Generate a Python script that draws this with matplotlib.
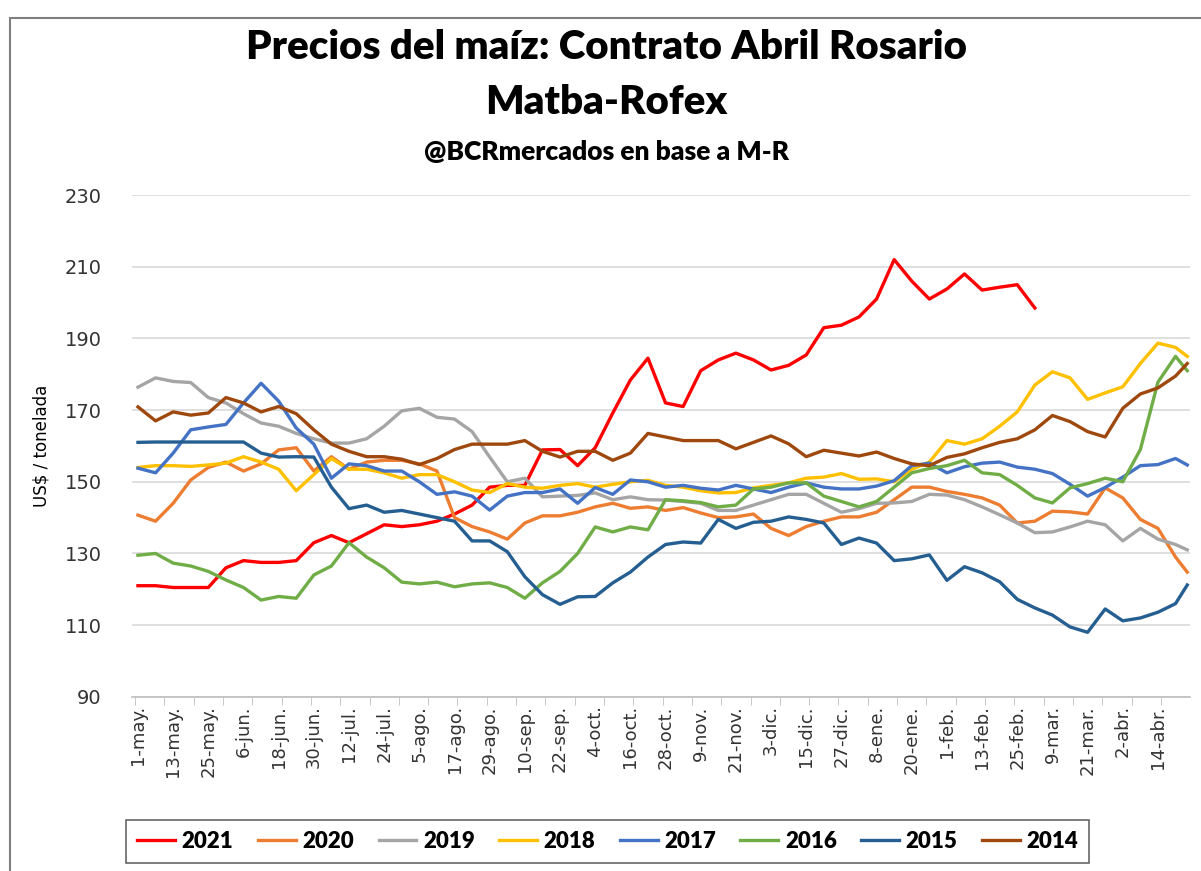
import numpy as np
import matplotlib
matplotlib.use("Agg")
import matplotlib.pyplot as plt
from matplotlib.patches import Rectangle

# dias desde el 1-may (muestras cada 6 dias + ultimo dato)
days = list(range(0, 355, 6)) + [358]

tick_days = list(range(0, 349, 12))
tick_labels = ["1-may.", "13-may.", "25-may.", "6-jun.", "18-jun.", "30-jun.",
               "12-jul.", "24-jul.", "5-ago.", "17-ago.", "29-ago.", "10-sep.",
               "22-sep.", "4-oct.", "16-oct.", "28-oct.", "9-nov.", "21-nov.",
               "3-dic.", "15-dic.", "27-dic.", "8-ene.", "20-ene.", "1-feb.",
               "13-feb.", "25-feb.", "9-mar.", "21-mar.", "2-abr.", "14-abr."]

p2021 = [121, 121, 120.5, 120.5, 120.5, 126, 128, 127.5, 127.5, 128,
         133, 135, 133, 135.5, 138, 137.5, 138, 139, 141, 143.5,
         148.5, 149, 149, 158.9, 159, 154.5, 159.5, 169.2, 178.4, 184.5,
         172, 171, 181, 184, 185.9, 184, 181.2, 182.5, 185.4, 193,
         193.7, 196, 201, 212, 206, 201, 203.8, 208, 203.5, 204.3,
         205, 198.5]
p2020 = [140.7, 139, 144, 150.5, 154, 155.5, 153, 155, 158.9, 159.5,
         153, 157, 153.5, 155.5, 156, 156, 155, 153, 140, 137.5,
         136, 134, 138.5, 140.5, 140.5, 141.5, 143, 144, 142.6, 143,
         142, 142.8, 141.3, 140, 140.2, 141, 137, 135, 137.5, 139,
         140.2, 140.2, 141.5, 145, 148.5, 148.5, 147.3, 146.5, 145.5, 143.5,
         138.5, 139, 141.8, 141.6, 141, 148.3, 145.5, 139.5, 137, 129,
         124.8]
p2019 = [176.4, 179, 178, 177.7, 173.5, 172, 169, 166.4, 165.5, 163.5,
         162, 160.8, 160.8, 162, 165.5, 169.8, 170.5, 168, 167.5, 164,
         156.9, 150, 151, 145.8, 146, 146.2, 146.9, 145, 145.8, 145,
         144.9, 144.5, 144, 142, 142, 143.5, 145, 146.5, 146.5, 144,
         141.5, 142.5, 144, 144.1, 144.5, 146.5, 146.3, 145, 143, 140.8,
         138.5, 135.8, 136, 137.4, 139, 138, 133.5, 137, 134, 132.5,
         131]
p2018 = [154, 154.5, 154.5, 154.3, 154.7, 155.2, 157, 155.5, 153.5, 147.5,
         152, 156.5, 153.5, 153.5, 152.5, 151, 152, 152, 150, 147.7,
         147, 149.5, 148.5, 148.2, 149, 149.5, 148.5, 149.3, 150, 150.4,
         149, 148.5, 147.5, 146.9, 147, 148.3, 149, 149.7, 151, 151.3,
         152.3, 150.7, 150.8, 150, 153.5, 155.5, 161.5, 160.5, 162, 165.5,
         169.5, 177, 180.7, 179, 173, 174.8, 176.5, 183, 188.7, 187.5,
         185]
p2017 = [153.8, 152.5, 158, 164.5, 165.3, 166, 172, 177.5, 172.5, 165,
         160.5, 151, 155, 154.5, 153, 153, 150, 146.5, 147.2, 146,
         142.1, 146, 147, 147, 148, 144, 148.4, 146.5, 150.5, 150,
         148.5, 149, 148.2, 147.7, 149, 148, 147, 148.5, 149.7, 148.5,
         148, 148, 148.8, 150.3, 154.5, 155.2, 152.5, 154.2, 155.2, 155.5,
         154.1, 153.5, 152.3, 149.3, 146, 148.4, 151.3, 154.5, 154.8, 156.5,
         154.7]
p2016 = [129.5, 130, 127.3, 126.5, 125, 122.6, 120.5, 117, 118, 117.5,
         124, 126.5, 133, 129, 126, 122, 121.5, 122, 120.7, 121.5,
         121.8, 120.5, 117.5, 121.8, 125, 130, 137.4, 136, 137.4, 136.6,
         145, 144.7, 144.2, 143, 143.5, 148, 148.5, 149.7, 149.7, 146,
         144.5, 143, 144.5, 148.5, 152.5, 153.7, 154.5, 156, 152.5, 152,
         149, 145.5, 144.1, 148.3, 149.5, 151, 150, 159, 177.8, 185,
         181]
p2015 = [161, 161.1, 161.1, 161.1, 161.1, 161.1, 161.1, 158, 156.9, 157,
         156.9, 148.5, 142.5, 143.5, 141.5, 142, 141, 140, 139, 133.5,
         133.5, 130.5, 123.5, 118.5, 115.8, 117.9, 118, 121.8, 124.8, 129,
         132.5, 133.2, 132.9, 139.5, 137, 138.7, 139, 140.2, 139.5, 138.5,
         132.5, 134.3, 132.9, 128, 128.5, 129.6, 122.5, 126.3, 124.6, 122.1,
         117.2, 114.8, 112.8, 109.5, 108, 114.5, 111.2, 112, 113.6, 116,
         121.2]
p2014 = [170.9, 167, 169.5, 168.6, 169.2, 173.5, 172, 169.5, 171, 169,
         164.5, 160.5, 158.5, 157, 157, 156.3, 154.8, 156.5, 159, 160.5,
         160.5, 160.5, 161.5, 158.5, 156.9, 158.5, 158.5, 156, 158, 163.5,
         162.5, 161.5, 161.5, 161.5, 159.2, 161, 162.8, 160.6, 157, 158.8,
         158, 157.2, 158.3, 156.5, 155, 154.5, 156.8, 157.8, 159.5, 161,
         162, 164.5, 168.5, 166.8, 164, 162.5, 170.5, 174.5, 176.2, 179.5,
         183]

series = [
    ("2021", p2021, "#FF0000"),
    ("2020", p2020, "#ED7D31"),
    ("2019", p2019, "#A5A5A5"),
    ("2018", p2018, "#FFC000"),
    ("2017", p2017, "#4472C4"),
    ("2016", p2016, "#70AD47"),
    ("2015", p2015, "#255E91"),
    ("2014", p2014, "#9E480E"),
]

title_font = ["Lato", "DejaVu Sans"]

fig = plt.figure(figsize=(12.01, 8.71), dpi=100)
ax = fig.add_axes([0.110, 0.200, 0.881, 0.576])

for name, vals, color in series:
    ax.plot(days[:len(vals)], vals, color=color, lw=2.4, label=name,
            solid_joinstyle="round")

ax.set_ylim(90, 230)
ax.set_xlim(-2, 359)
ax.set_yticks(range(90, 231, 20))
ax.yaxis.grid(True, color="#D9D9D9", lw=1.2)
ax.set_axisbelow(True)
for s in ["top", "right", "left"]:
    ax.spines[s].set_visible(False)
ax.spines["bottom"].set_color("#BFBFBF")
ax.spines["bottom"].set_linewidth(1.2)
ax.tick_params(axis="y", length=0, labelsize=14, labelcolor="#333333", pad=22)

ax.set_xticks(tick_days)
ax.set_xticklabels(tick_labels, rotation=90, fontsize=13, color="#333333",
                   fontfamily="DejaVu Sans")
ax.tick_params(axis="x", which="major", length=0, pad=6)
ax.set_xticks(np.arange(-1, 359, 10), minor=True)
ax.tick_params(axis="x", which="minor", length=6, color="#BFBFBF")

ax.set_ylabel("US$ / tonelada", fontsize=12, labelpad=10)

fig.text(0.505, 0.945, "Precios del maíz: Contrato Abril Rosario",
         ha="center", va="center", fontsize=29, fontweight="heavy",
         family=title_font)
fig.text(0.505, 0.882, "Matba-Rofex", ha="center", va="center",
         fontsize=29, fontweight="heavy", family=title_font)
fig.text(0.505, 0.825, "@BCRmercados en base a M-R", ha="center",
         va="center", fontsize=19, fontweight="heavy", family=title_font)

leg = fig.legend(loc="center", bbox_to_anchor=(0.506, 0.034), ncol=8,
                 frameon=True, fancybox=False, edgecolor="#404040",
                 handlelength=1.7, handletextpad=0.3, columnspacing=1.1,
                 prop={"family": title_font, "weight": "heavy", "size": 16},
                 borderpad=0.5)
leg.get_frame().set_linewidth(1.2)

# marco del grafico
fig.patches.append(Rectangle((10 / 1201, -0.1), 1.2, 1.1 - 18 / 871,
                             transform=fig.transFigure, fill=False,
                             edgecolor="#7F7F7F", lw=1.5))

fig.savefig("out.png", dpi=100)
